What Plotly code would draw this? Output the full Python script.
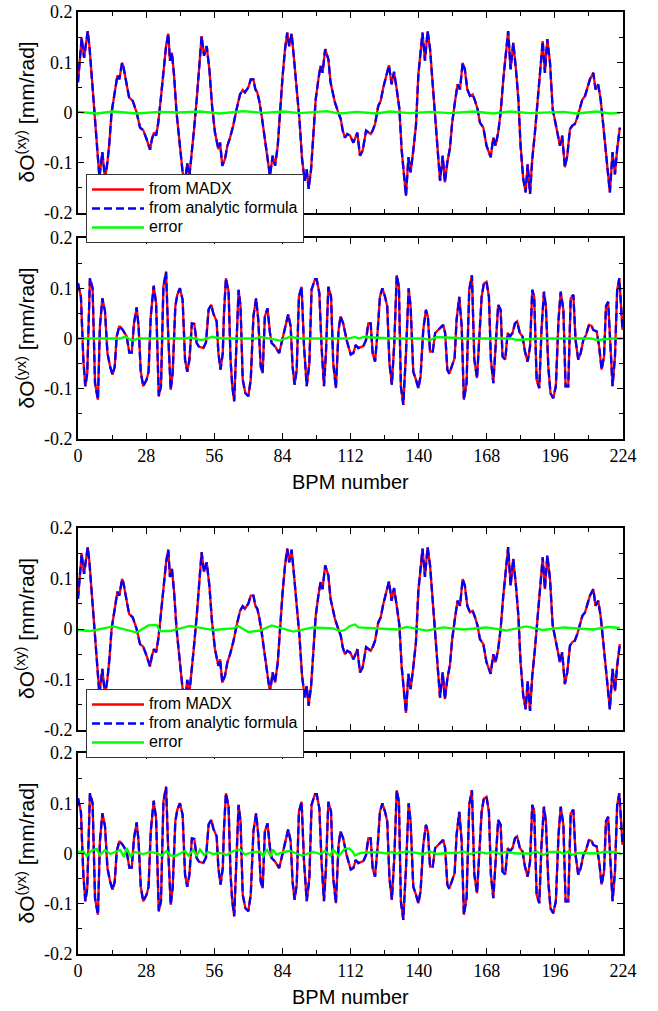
import plotly.graph_objects as go

# ---------------- data ----------------
bpm_xy = [0, 0.8, 1.5, 2.5, 3.2, 4.0, 4.7, 5.6, 6.6, 7.7, 8.8, 10.0, 11.1, 12.1, 12.9, 13.8, 15.2, 16.2, 17.0, 18.1,
          18.6, 19.7, 21.0, 22.5, 24.1, 25.5, 26.8, 28.2, 29.6, 30.4, 31.2, 32.1, 33.0, 34.0, 35.1, 36.2, 37.1, 37.8,
          38.6, 39.5, 40.5, 41.9, 43.0, 44.1, 44.9, 45.8, 46.7, 47.7, 48.8, 49.9, 50.8, 51.8, 52.9, 54.0, 55.1, 56.3,
          57.7, 58.4, 59.3, 60.4, 61.4, 62.5, 63.8, 65.2, 66.6, 67.7, 68.6, 70.0, 71.0, 72.1, 72.9, 73.7, 74.5, 75.5,
          76.8, 77.9, 78.9, 80.0, 81.0, 82.1, 83.0, 84.1, 85.1, 86.0, 86.8, 87.8, 88.8, 89.9, 91.0, 92.1, 93.2, 94.0,
          94.8, 95.8, 96.7, 97.7, 98.8, 99.7, 100.5, 101.6, 102.9, 103.8, 104.7, 105.6, 107.0, 108.0, 108.8, 109.7,
          110.7, 111.8, 113.2, 114.8, 115.9, 117.0, 118.4, 119.3, 120.3, 121.1, 122.1, 123.4, 124.4, 125.5, 126.6,
          127.8, 128.9, 129.9, 131.0, 132.1, 133.0, 134.0, 134.8, 135.8, 136.7, 137.8, 138.9, 139.9, 140.8, 141.6,
          142.6, 143.7, 144.7, 145.6, 146.7, 147.7, 148.8, 149.9, 150.8, 151.8, 152.9, 153.8, 154.9, 156.0, 157.0,
          158.1, 159.0, 160.0, 161.1, 162.2, 163.2, 164.2, 165.2, 166.6, 167.9, 169.6, 170.7, 171.6, 172.7, 173.7,
          174.8, 175.8, 176.8, 177.8, 178.9, 180.0, 181.0, 181.9, 183.0, 184.0, 184.8, 185.8, 186.7, 187.8, 188.8,
          189.9, 191.0, 191.9, 192.9, 194.0, 195.1, 196.0, 197.0, 198.1, 199.0, 200.1, 201.1, 202.2, 203.2, 204.2,
          205.2, 206.3, 207.3, 208.4, 209.3, 210.4, 211.8, 212.7, 213.8, 214.8, 215.9, 217.0, 217.9, 218.6, 219.7,
          220.7, 221.6, 222.7]
dO_xy = [0.060, 0.106, 0.149, 0.109, 0.139, 0.162, 0.132, 0.073, 0.000, -0.073, -0.129, -0.079, -0.132, -0.099,
         -0.060, 0.000, 0.046, 0.074, 0.066, 0.099, 0.093, 0.060, 0.030, 0.023, 0.000, -0.030, -0.035, -0.053, -0.074,
         -0.053, -0.040, -0.046, -0.020, 0.026, 0.086, 0.132, 0.157, 0.103, 0.119, 0.073, 0.000, -0.066, -0.119,
         -0.136, -0.101, -0.126, -0.086, -0.033, 0.026, 0.099, 0.152, 0.113, 0.132, 0.086, 0.013, -0.040, -0.073,
         -0.060, -0.106, -0.093, -0.066, -0.050, -0.026, 0.007, 0.036, 0.045, 0.040, 0.050, 0.066, 0.066, 0.046,
         0.040, 0.023, -0.007, -0.053, -0.099, -0.126, -0.086, -0.106, -0.066, 0.000, 0.073, 0.126, 0.159, 0.132,
         0.157, 0.106, 0.053, -0.013, -0.093, -0.136, -0.113, -0.152, -0.113, -0.053, 0.026, 0.066, 0.093, 0.079,
         0.126, 0.106, 0.060, 0.040, 0.020, 0.000, -0.013, -0.036, -0.050, -0.043, -0.046, -0.060, -0.040, -0.086,
         -0.076, -0.036, -0.040, -0.043, -0.036, -0.023, 0.013, 0.023, 0.050, 0.073, 0.094, 0.056, 0.081, 0.046,
         0.007, -0.073, -0.132, -0.166, -0.089, -0.119, -0.076, -0.026, 0.076, 0.119, 0.159, 0.103, 0.162, 0.126,
         0.073, 0.000, -0.066, -0.136, -0.086, -0.139, -0.099, -0.070, -0.020, 0.020, 0.056, 0.046, 0.099, 0.086,
         0.046, 0.033, 0.036, 0.023, 0.007, -0.020, -0.030, -0.066, -0.089, -0.050, -0.066, -0.040, 0.000, 0.066,
         0.113, 0.162, 0.086, 0.139, 0.086, 0.026, -0.066, -0.132, -0.159, -0.103, -0.162, -0.093, -0.040, 0.026,
         0.079, 0.142, 0.079, 0.146, 0.099, 0.007, -0.013, -0.040, -0.066, -0.046, -0.109, -0.086, -0.033, -0.026,
         -0.023, -0.010, 0.007, 0.026, 0.033, 0.046, 0.066, 0.079, 0.046, 0.056, 0.026, -0.026, -0.086, -0.126,
         -0.159, -0.079, -0.123, -0.073, -0.030]

bpm_yx = [0, 1.2, 2.2, 3.0, 3.8, 4.9, 6.0, 7.0, 8.2, 9.0, 10.0, 11.1, 12.1, 13.2, 14.2, 15.1, 15.9, 17.0, 18.4, 20.0,
          21.1, 22.1, 23.0, 24.1, 24.9, 25.8, 26.8, 28.2, 29.0, 29.9, 31.1, 32.1, 33.2, 34.1, 35.1, 36.2, 37.1, 38.1,
          38.9, 40.0, 40.8, 41.9, 43.0, 44.0, 44.9, 45.8, 46.8, 47.8, 48.8, 49.7, 51.5, 52.6, 53.7, 54.8, 55.6, 57.0,
          57.7, 58.6, 59.5, 60.0, 60.8, 61.9, 62.7, 63.4, 64.2, 64.9, 66.0, 66.8, 67.7, 68.8, 70.0, 71.0, 72.1, 73.2,
          74.1, 75.1, 75.9, 76.8, 77.9, 78.9, 79.6, 81.0, 82.7, 83.8, 85.1, 86.4, 87.4, 88.2, 89.0, 89.9, 90.8, 91.9,
          92.9, 94.0, 95.1, 96.0, 97.4, 98.1, 99.2, 100.1, 101.1, 101.9, 102.9, 104.0, 104.9, 106.0, 107.1, 107.9,
          109.0, 110.4, 112.1, 113.2, 114.1, 115.2, 117.3, 118.4, 119.3, 120.3, 121.1, 122.1, 123.2, 124.1, 125.1,
          126.2, 127.1, 128.0, 129.0, 130.0, 131.0, 131.9, 132.7, 133.7, 134.8, 135.9, 136.7, 137.8, 138.9, 139.9,
          140.8, 141.9, 143.0, 143.8, 144.7, 145.8, 146.8, 148.1, 150.1, 150.9, 151.8, 152.6, 153.7, 154.8, 155.6,
          156.7, 157.7, 158.6, 159.7, 160.8, 161.9, 162.9, 164.0, 164.8, 165.9, 166.8, 167.9, 168.9, 169.7, 170.7,
          171.6, 172.7, 173.7, 174.5, 175.6, 176.6, 177.5, 178.6, 179.6, 180.5, 181.6, 182.7, 183.7, 184.8, 185.8,
          186.7, 187.5, 188.5, 189.6, 190.5, 191.5, 192.3, 193.3, 194.2, 195.3, 196.4, 197.5, 198.4, 199.5, 200.4,
          201.5, 202.5, 203.6, 204.5, 205.6, 206.6, 207.7, 208.8, 210.0, 211.1, 211.8, 213.2, 214.2, 215.2, 216.2,
          217.0, 217.9, 218.9, 219.7, 220.7, 221.6, 222.5, 223.8]
dO_yx = [0.110, 0.083, -0.042, -0.095, -0.069, 0.120, 0.100, -0.089, -0.122, 0.024, 0.080, 0.054, -0.029, -0.056,
         -0.072, -0.056, 0.004, 0.025, 0.017, 0.004, -0.028, -0.028, 0.030, 0.062, 0.024, -0.066, -0.095, -0.082,
         -0.066, 0.044, 0.105, 0.070, -0.115, -0.095, 0.103, 0.133, 0.004, -0.102, -0.069, 0.064, 0.087, 0.100,
         0.077, -0.042, -0.066, -0.042, 0.030, 0.029, -0.009, -0.016, -0.019, -0.008, 0.058, 0.067, 0.050, 0.034,
         -0.029, -0.062, -0.029, 0.050, 0.120, 0.093, -0.042, -0.095, -0.125, -0.042, 0.097, 0.064, -0.082, -0.109,
         -0.115, -0.082, 0.044, 0.080, 0.037, -0.056, -0.069, 0.044, 0.060, 0.011, -0.009, -0.016, -0.029, -0.006,
         0.024, 0.048, 0.024, -0.056, -0.092, -0.062, 0.083, 0.103, -0.016, -0.095, -0.049, 0.097, 0.118, 0.118,
         0.090, -0.016, -0.095, -0.029, 0.103, 0.083, -0.049, -0.099, 0.017, 0.044, 0.030, -0.003, -0.032, -0.029,
         -0.013, -0.019, -0.015, -0.003, 0.030, 0.030, -0.029, -0.046, 0.017, 0.083, 0.100, 0.083, 0.064, -0.049,
         -0.092, -0.009, 0.126, 0.103, -0.095, -0.132, -0.029, 0.100, 0.064, -0.066, -0.082, -0.099, -0.075, 0.017,
         0.057, 0.044, -0.026, -0.026, 0.011, 0.017, 0.027, 0.011, -0.062, -0.070, -0.056, -0.039, 0.037, 0.083,
         0.024, -0.122, -0.089, 0.097, 0.126, -0.042, -0.079, -0.016, 0.083, 0.109, 0.113, 0.083, -0.042, -0.089,
         -0.023, 0.067, 0.057, -0.036, -0.042, 0.011, 0.004, 0.011, 0.030, 0.034, 0.011, 0.004, -0.026, -0.046,
         -0.016, 0.097, 0.083, -0.082, -0.099, 0.017, 0.093, 0.064, -0.056, -0.109, -0.119, -0.095, 0.037, 0.093,
         0.057, -0.095, -0.095, 0.080, 0.087, -0.003, -0.042, -0.029, -0.003, 0.007, 0.027, 0.025, 0.017, 0.014,
         -0.016, -0.062, -0.036, 0.064, 0.073, -0.036, -0.095, -0.036, 0.097, 0.120, 0.017]

# error curves (MADX - analytic)
bpm_err1 = [0, 7.7, 14.5, 24.1, 33.7, 41.9, 50.1, 58.4, 67.9, 76.2, 84.4, 91.2, 102.2, 107.7, 114.5, 122.7, 128.2,
            136.4, 144.7, 152.9, 162.5, 170.7, 177.5, 185.8, 199.5, 204.9, 213.2, 218.6, 222.7]
err1 = [0.0013, -0.002, 0.002, -0.002, 0.0013, 0.0, 0.002, -0.002, 0.0026, -0.0007, 0.002, -0.0013, 0.0026, -0.002,
        0.0013, -0.002, 0.002, -0.0013, 0.0013, -0.0013, 0.002, -0.002, 0.002, -0.0013, 0.0013, -0.002, 0.002,
        -0.002, -0.0007]

bpm_err2 = [0, 17.5, 19.3, 22.1, 25, 44, 46, 51, 55, 60, 73, 75, 83, 87, 92, 111, 113.8, 115.5, 117.3, 130, 142,
            144.7, 147.4, 160, 178, 180.3, 190, 211, 213.2, 220, 223.8]
err2 = [0.0, 0.0, 0.004, -0.004, 0.0, 0.0, 0.002, -0.003, 0.003, 0.0, 0.0, 0.003, -0.004, 0.003, 0.0, 0.0, 0.003,
        0.0, 0.003, 0.0, 0.0, -0.003, 0.003, 0.0, 0.0, -0.003, 0.0, 0.0, -0.003, 0.0, 0.0]

bpm_err3 = [0, 4.9, 14.5, 24.1, 28.9, 32.3, 33.7, 37.8, 46.0, 55.6, 63.8, 65.9, 70.0, 74.8, 79.6, 84.4, 88.5, 96.7,
            104.9, 107.7, 109.7, 111.8, 113.8, 115.2, 122.7, 131.0, 135.1, 139.2, 143.3, 150.1, 158.4, 167.9, 176.1,
            184.3, 191.2, 199.5, 206.3, 211.8, 218.0, 222.7]
err3 = [-0.002, -0.004, 0.005, -0.007, 0.007, 0.008, -0.004, -0.004, 0.006, -0.002, 0.001, 0.006, -0.006, -0.003,
        0.007, 0.001, -0.005, 0.003, 0.001, -0.004, -0.002, 0.006, 0.009, 0.003, 0.001, -0.001, 0.004, 0.001,
        -0.003, 0.003, -0.001, 0.003, -0.003, 0.005, -0.002, 0.003, 0.0, -0.001, 0.004, 0.002]

bpm_err4 = [0, 2.2, 3.6, 5.6, 7.7, 9.0, 11.1, 13.2, 15.2, 17.3, 18.9, 20.0, 21.6, 23.4, 26.8, 29.6, 32.3, 34.4, 36.4,
            38.1, 39.9, 41.9, 44.0, 45.3, 47.4, 48.8, 50.1, 51.8, 53.6, 55.6, 58.4, 61.1, 63.8, 66.6, 68.6, 72.1,
            74.8, 76.2, 77.5, 79.2, 80.0, 81.6, 84.4, 87.1, 89.9, 91.9, 96.7, 99.5, 101.5, 103.6, 104.9, 107.2,
            109.5, 111.5, 113.0, 113.8, 116.0, 122.7, 126.8, 128.9, 131.0, 135.1, 139.2, 141.9, 144.7, 147.4, 151.5,
            155.6, 158.4, 161.1, 164.5, 167.9, 170.7, 173.4, 175.5, 180.3, 185.8, 188.5, 191.2, 194.0, 198.1, 199.5,
            201.5, 202.9, 205.6, 210.4, 213.2, 215.9, 220.0, 223.4]
err4 = [0.003, 0.004, -0.005, 0.006, 0.009, -0.003, 0.007, -0.001, 0.003, 0.007, -0.007, 0.011, -0.006, 0.003,
        -0.001, 0.003, 0.001, -0.004, 0.005, -0.004, -0.005, 0.0, 0.005, -0.004, 0.007, -0.005, 0.008, -0.003,
        0.003, -0.001, 0.001, -0.003, 0.005, 0.008, -0.002, 0.003, 0.003, -0.005, 0.009, -0.006, 0.008, -0.002,
        0.003, 0.005, 0.0, -0.004, 0.003, -0.001, 0.005, -0.004, 0.008, -0.005, 0.009, 0.010, 0.003, -0.004,
        0.001, 0.003, 0.0, 0.003, 0.0, 0.004, 0.001, -0.001, 0.004, -0.001, 0.001, 0.001, 0.004, -0.001, 0.003,
        0.0, 0.004, -0.001, 0.003, 0.0, 0.0, 0.004, -0.003, 0.003, 0.003, -0.001, 0.004, -0.003, 0.001, 0.001,
        0.0, 0.003, 0.003, -0.001]

x_ticks = list(range(0, 225, 28))
y_ticks = [-0.2, -0.1, 0, 0.1, 0.2]
y_ticktext = ["-0.2", "-0.1", "0", "0.1", "0.2"]

series_names = ["from MADX", "from analytic formula", "error"]
colors = ["#ff0000", "#0000ff", "#00ff00"]

panels = [
    (bpm_xy, dO_xy, bpm_err1, err1, "legend", True),
    (bpm_yx, dO_yx, bpm_err2, err2, "legend", False),
    (bpm_xy, dO_xy, bpm_err3, err3, "legend2", True),
    (bpm_yx, dO_yx, bpm_err4, err4, "legend2", False),
]

W, H = 658, 1011
px_x0, px_x1 = 78, 623
panel_px = [(12, 213), (238, 439), (528, 730), (753, 954)]


def leg_label(s):
    return '<span style="font-size:16px">' + s + '</span>'


fig = go.Figure()
for i, (bx, vals, be, ev, leg, show) in enumerate(panels):
    ax = "" if i == 0 else str(i + 1)
    fig.add_trace(go.Scatter(x=bx, y=vals, mode="lines", name=leg_label(series_names[0]),
                             line=dict(color=colors[0], width=2.3), xaxis="x" + ax, yaxis="y" + ax,
                             legend=leg, showlegend=show))
    fig.add_trace(go.Scatter(x=bx, y=vals, mode="lines", name=leg_label(series_names[1]),
                             line=dict(color=colors[1], width=2.3, dash="8px,4px"), xaxis="x" + ax,
                             yaxis="y" + ax, legend=leg, showlegend=show))
    fig.add_trace(go.Scatter(x=be, y=ev, mode="lines", name=leg_label(series_names[2]),
                             line=dict(color=colors[2], width=2.3), xaxis="x" + ax, yaxis="y" + ax,
                             legend=leg, showlegend=show))

tickfont = dict(family="Liberation Serif", size=18, color="black")
layout = dict(width=W, height=H, margin=dict(l=0, r=0, t=0, b=0, autoexpand=False), paper_bgcolor="white",
              plot_bgcolor="white", showlegend=True)
annotations = []
for i, (t, b) in enumerate(panel_px):
    key = "" if i == 0 else str(i + 1)
    labeled = i in (1, 3)
    layout["xaxis" + key] = dict(domain=[px_x0 / W, px_x1 / W], range=[0, 224], anchor="y" + key,
                                 tickmode="array", tickvals=x_ticks,
                                 showticklabels=labeled, ticks="inside", ticklen=6, tickwidth=1,
                                 tickcolor="black", showline=True, linecolor="black", linewidth=1.6,
                                 mirror="ticks", showgrid=False, zeroline=False, tickfont=tickfont,
                                 minor=dict(dtick=14, tick0=0, ticks="inside", ticklen=4, tickwidth=1,
                                            tickcolor="black", showgrid=False))
    layout["yaxis" + key] = dict(domain=[1 - b / H, 1 - t / H], range=[-0.2, 0.2], anchor="x" + key,
                                 tickmode="array", tickvals=y_ticks, ticktext=y_ticktext,
                                 ticks="inside", ticklen=6, tickwidth=1, tickcolor="black",
                                 showline=True, linecolor="black", linewidth=1.6, mirror="ticks",
                                 showgrid=False, zeroline=False, tickfont=tickfont,
                                 minor=dict(dtick=0.05, tick0=0, ticks="inside", ticklen=4, tickwidth=1,
                                            tickcolor="black", showgrid=False))
    title = "δO<sup>(xy)</sup> [mm/rad]" if i % 2 == 0 else "δO<sup>(yx)</sup> [mm/rad]"
    annotations.append(dict(text=title, textangle=-90, x=25 / W, y=1 - (t + b) / 2 / H,
                            xref="paper", yref="paper", showarrow=False, xanchor="center",
                            yanchor="middle", font=dict(family="Liberation Sans", size=21, color="black")))
    if labeled:
        annotations.append(dict(text="BPM number", x=(px_x0 + px_x1) / 2 / W, y=1 - (b + 43) / H,
                                xref="paper", yref="paper", showarrow=False, xanchor="center",
                                yanchor="middle",
                                font=dict(family="Liberation Sans", size=20, color="black")))
layout["annotations"] = annotations
legstyle = dict(xanchor="left", yanchor="top", bgcolor="white", bordercolor="#333333", borderwidth=1,
                font=dict(family="Liberation Sans", size=11, color="black"), tracegroupgap=0,
                itemwidth=52)
layout["legend"] = dict(x=86 / W, y=1 - 174 / H, **legstyle)
layout["legend2"] = dict(x=86 / W, y=1 - 689 / H, **legstyle)
fig.update_layout(**layout)
fig.write_html("out.html")
